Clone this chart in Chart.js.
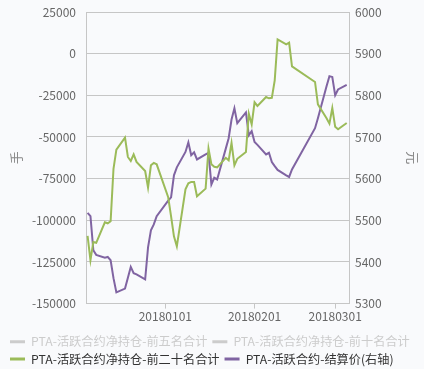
<!DOCTYPE html>
<html>
<head>
<meta charset="utf-8">
<script src="https://cdn.jsdelivr.net/npm/chart.js@4.4.1/dist/chart.umd.min.js"></script>
<style>
  html, body { margin: 0; padding: 0; background: #f9fafc; }
  #wrap { width: 424px; height: 369px; }
</style>
</head>
<body>
<div id="wrap"><canvas id="chart" width="424" height="369"></canvas></div>
<script>
// 交易日
var dates = [
  '20171205','20171206','20171207','20171208','20171211','20171212','20171213','20171214','20171215',
  '20171218','20171219','20171220','20171221','20171222','20171225','20171226','20171227','20171228','20171229',
  '20180102','20180103','20180104','20180105','20180108','20180109','20180110','20180111','20180112',
  '20180115','20180116','20180117','20180118','20180119','20180122','20180123','20180124','20180125','20180126',
  '20180129','20180130','20180131','20180201','20180202','20180205','20180206','20180207','20180208','20180209',
  '20180212','20180213','20180214','20180222','20180223','20180226','20180227','20180228',
  '20180301','20180302','20180305'
];
// 前五名 / 前十名 没有画出来，只在图例里
var top5 = [];
var top10 = [];
// 前二十名合计 (手)
var top20 = [
  -109400,-124000,-113000,-113500,-101200,-101800,-100600,-69100,-57600,
  -50400,-62000,-64400,-60400,-65000,-70400,-80400,-67000,-65600,-66400,
  -86200,-97600,-109600,-115600,-81400,-77800,-77000,-77000,-85600,
  -81000,-57000,-66400,-67900,-68200,-62500,-64000,-53500,-67000,-63100,
  -59000,-36000,-42400,-29200,-31400,-26000,-26800,-26500,-16000,8600,
  5600,6600,-7600,-17000,-30400,-38800,-42000,-32600,
  -43900,-45400,-41600
];
// 结算价 (元, 右轴)
var settle = [
  5518,5510,5428,5417,5410,5412,5404,5361,5327,
  5336,5362,5388,5373,5370,5358,5435,5476,5490,5510,
  5547,5555,5608,5627,5664,5687,5656,5663,5646,
  5658,5662,5586,5602,5598,5672,5697,5742,5769,5733,
  5759,5704,5714,5688,5681,5658,5662,5640,5630,5621,
  5608,5604,5622,5721,5745,5822,5846,5844,
  5800,5814,5825
];
var xTickLabels = ['20180101', '20180201', '20180301'];
var seriesNames = [
  'PTA-活跃合约净持仓-前五名合计',
  'PTA-活跃合约净持仓-前十名合计',
  'PTA-活跃合约净持仓-前二十名合计',
  'PTA-活跃合约-结算价(右轴)'
];

var baseDay = '20171204';
function toDay(s) {
  var t = Date.UTC(+s.slice(0, 4), +s.slice(4, 6) - 1, +s.slice(6, 8));
  var b = Date.UTC(+baseDay.slice(0, 4), +baseDay.slice(4, 6) - 1, +baseDay.slice(6, 8));
  return Math.round((t - b) / 86400000);
}
function pairs(vals) {
  return vals.map(function(v, i) { return { x: toDay(dates[i]), y: v }; });
}
var tickDays = xTickLabels.map(toDay);

var font = '"Noto Sans CJK SC", "Noto Sans", sans-serif';
var gridColor = '#c6c6c6';
var colors = ['#cccccc', '#cccccc', '#9bbb59', '#8064a2'];
function plain(v) { return String(v); }
// tick padding 不要加到上下
function fixY(w) {
  return function(axis) {
    axis.width = w;
    axis.paddingTop = 7;
    axis.paddingBottom = 7;
  };
}

var ctx = document.getElementById('chart').getContext('2d');
new Chart(ctx, {
  type: 'line',
  data: {
    datasets: [
      { label: seriesNames[0], data: pairs(top5), borderColor: colors[0], backgroundColor: colors[0], yAxisID: 'y' },
      { label: seriesNames[1], data: pairs(top10), borderColor: colors[1], backgroundColor: colors[1], yAxisID: 'y' },
      { label: seriesNames[2], data: pairs(top20), borderColor: colors[2], backgroundColor: colors[2], yAxisID: 'y' },
      { label: seriesNames[3], data: pairs(settle), borderColor: colors[3], backgroundColor: colors[3], yAxisID: 'y1' }
    ]
  },
  options: {
    responsive: false,
    animation: false,
    layout: { padding: { top: 12, left: 5, right: 0, bottom: -6 } },
    elements: {
      line: { borderWidth: 2, tension: 0 },
      point: { radius: 0, hoverRadius: 0 }
    },
    plugins: {
      tooltip: { enabled: false },
      legend: {
        position: 'bottom',
        align: 'start',
        labels: {
          boxWidth: 15,
          boxHeight: 3,
          padding: 5,
          font: { family: font, size: 12.2 },
          generateLabels: function(chart) {
            return chart.data.datasets.map(function(ds, i) {
              return {
                text: ds.label,
                fillStyle: ds.borderColor,
                strokeStyle: ds.borderColor,
                lineWidth: 0,
                hidden: false,
                fontColor: i < 2 ? '#cccccc' : '#333333',
                datasetIndex: i
              };
            });
          }
        }
      }
    },
    scales: {
      x: {
        type: 'linear',
        min: 0.45,
        max: 91.8,
        afterBuildTicks: function(axis) {
          axis.ticks = tickDays.map(function(d) { return { value: d }; });
        },
        afterFit: function(axis) { axis.height = 27; },
        grid: { drawOnChartArea: false, drawTicks: true, tickLength: 5, color: gridColor },
        border: { color: gridColor },
        ticks: {
          autoSkip: false,
          maxRotation: 0,
          padding: 1,
          color: '#666',
          font: { family: font, size: 12 },
          callback: function(v) {
            var i = tickDays.indexOf(v);
            return i >= 0 ? xTickLabels[i] : '';
          }
        }
      },
      y: {
        position: 'left',
        min: -150000,
        max: 25000,
        afterFit: fixY(81),
        ticks: { stepSize: 25000, padding: 10, color: '#666', font: { family: font, size: 12 }, callback: plain },
        grid: { color: gridColor, drawTicks: false },
        border: { color: gridColor },
        title: { display: true, text: '手', color: '#888', font: { family: font, size: 13 }, padding: { top: 3, bottom: 0 } }
      },
      y1: {
        position: 'right',
        min: 5300,
        max: 6000,
        afterFit: fixY(75),
        ticks: { stepSize: 100, padding: 6, color: '#666', font: { family: font, size: 12 }, callback: plain },
        grid: { drawOnChartArea: false, drawTicks: false },
        border: { color: gridColor },
        title: { display: true, text: '元', color: '#888', font: { family: font, size: 13 }, padding: { top: 3, bottom: 0 } }
      }
    }
  }
});
</script>
</body>
</html>
